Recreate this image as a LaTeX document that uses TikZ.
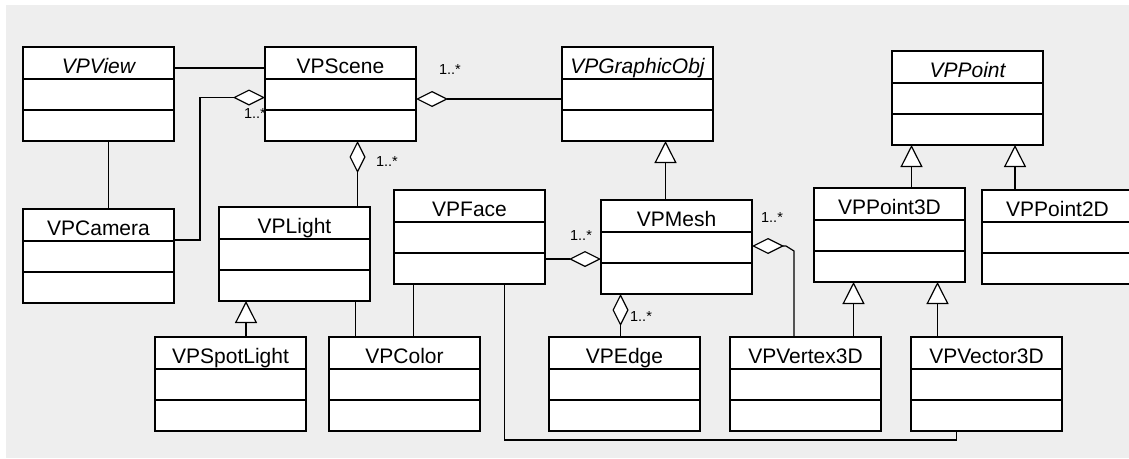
\documentclass[tikz,border=0pt]{standalone}
\usepackage{fontspec}
\setmainfont{Liberation Sans}
\usetikzlibrary{arrows.meta}

\definecolor{bggray}{RGB}{238,238,238}

% class box: header + two empty compartments
\newcommand{\umlclass}[4][]{%
  \node[cls] (#2) at (#3) {};
  \node[clsname,#1] (#2-name) at ([yshift=-26pt]#2.north) {#4};
  \draw[clsline] ([yshift=-32pt]#2.north west) -- ([yshift=-32pt]#2.north east)
    ([yshift=-63pt]#2.north west) -- ([yshift=-63pt]#2.north east);
}

\begin{document}
\begin{tikzpicture}[x=1pt, y=-1pt,
    cls/.style={draw, fill=white, line width=1.3pt, minimum width=151pt, minimum height=94pt,
      anchor=north west, inner sep=0pt, outer sep=0pt},
    clsline/.style={line width=1.3pt},
    clsname/.style={anchor=base, inner sep=0pt, font=\fontsize{21}{25}\selectfont},
    abstract/.style={font=\fontsize{21}{25}\selectfont\itshape},
    mult/.style={inner sep=0pt, font=\fontsize{14.5}{16}\selectfont},
    assoc/.style={line width=1.2pt},
    inh/.style={line width=1.2pt, -{Triangle[fill=white, length=22pt, width=22pt]}},
    agg/.style={line width=1.2pt, -{Diamond[fill=white, length=32pt, width=16pt]}}]
  \useasboundingbox (0,0) rectangle (1129,458);
  \clip (0,0) rectangle (1129,458);
  \fill[white] (0,0) rectangle (1129,458);
  \fill[bggray] (6,5) rectangle (1129,458);

  % top row
  \umlclass[abstract]{view}{23,47}{VPView}
  \umlclass{scene}{265,47}{VPScene}
  \umlclass[abstract]{gobj}{562,47}{VPGraphicObj}
  \umlclass[abstract]{point}{892,51}{VPPoint}
  % middle row
  \umlclass{cam}{23,209}{VPCamera}
  \umlclass{light}{219,207}{VPLight}
  \umlclass{face}{394,190}{VPFace}
  \umlclass{mesh}{601,200}{VPMesh}
  \umlclass{p3}{814,188}{VPPoint3D}
  \umlclass{p2}{982,190}{VPPoint2D}
  % bottom row
  \umlclass{spot}{155,337}{VPSpotLight}
  \umlclass{color}{329,337}{VPColor}
  \umlclass{edge}{549,337}{VPEdge}
  \umlclass{vtx}{730,337}{VPVertex3D}
  \umlclass{vec}{911,337}{VPVector3D}

  % associations
  \draw[assoc] ([yshift=-21pt]view.north east) -- ([yshift=-21pt]scene.north west);
  \draw[assoc] ([xshift=10pt]view.south) -- ([xshift=10pt]cam.north);
  \draw[assoc] ([xshift=61pt]light.south) -- ([xshift=-49pt]color.north);
  \draw[assoc] ([xshift=-56pt]face.south) -- ([xshift=9pt]color.north);
  \draw[assoc] ([xshift=35pt]face.south) |- ([xshift=-30pt,yshift=-9pt]vec.south)
    -- ([xshift=-30pt]vec.south);

  % aggregations
  \draw[agg] ([yshift=-31pt]cam.north east) -| ([xshift=-65pt,yshift=-50.5pt]scene.north west)
    -- ([yshift=-50.5pt]scene.north west);
  \draw[agg] ([yshift=-52pt]gobj.north west) -- ([yshift=-52pt]scene.north east);
  \draw[agg] ([xshift=63pt]light.north) -- ([xshift=17pt]scene.south);
  \draw[agg] ([yshift=-69pt]face.north east) -- ([yshift=-59pt]mesh.north west);
  \draw[agg] ([xshift=-4pt]edge.north) -- ([xshift=-56pt]mesh.south);
  \draw[agg] ([xshift=-11.5pt]vtx.north) -- ([xshift=-11.5pt,yshift=86pt]vtx.north)
    -- ([xshift=34pt,yshift=-46pt]mesh.north east) -- ([yshift=-46pt]mesh.north east);

  % generalizations
  \draw[inh] ([xshift=-11pt]mesh.north) -- ([xshift=28pt]gobj.south);
  \draw[inh] ([xshift=22pt]p3.north) -- ([xshift=-56pt]point.south);
  \draw[inh] ([xshift=-42.5pt]p2.north) -- ([xshift=47.5pt]point.south);
  \draw[inh] ([xshift=15.5pt]spot.north) -- ([xshift=-48.5pt]light.south);
  \draw[inh] ([xshift=48pt]vtx.north) -- ([xshift=-36pt]p3.south);
  \draw[inh] ([xshift=-49pt]vec.north) -- ([xshift=48pt]p3.south);

  % multiplicities
  \node[mult] (m-cam) at (255,114) {1..*};
  \node[mult] (m-gobj) at (450,70) {1..*};
  \node[mult] (m-light) at (387,162) {1..*};
  \node[mult] (m-face) at (581,236) {1..*};
  \node[mult] (m-edge) at (641,317) {1..*};
  \node[mult] (m-vtx) at (772,218) {1..*};
\end{tikzpicture}
\end{document}
